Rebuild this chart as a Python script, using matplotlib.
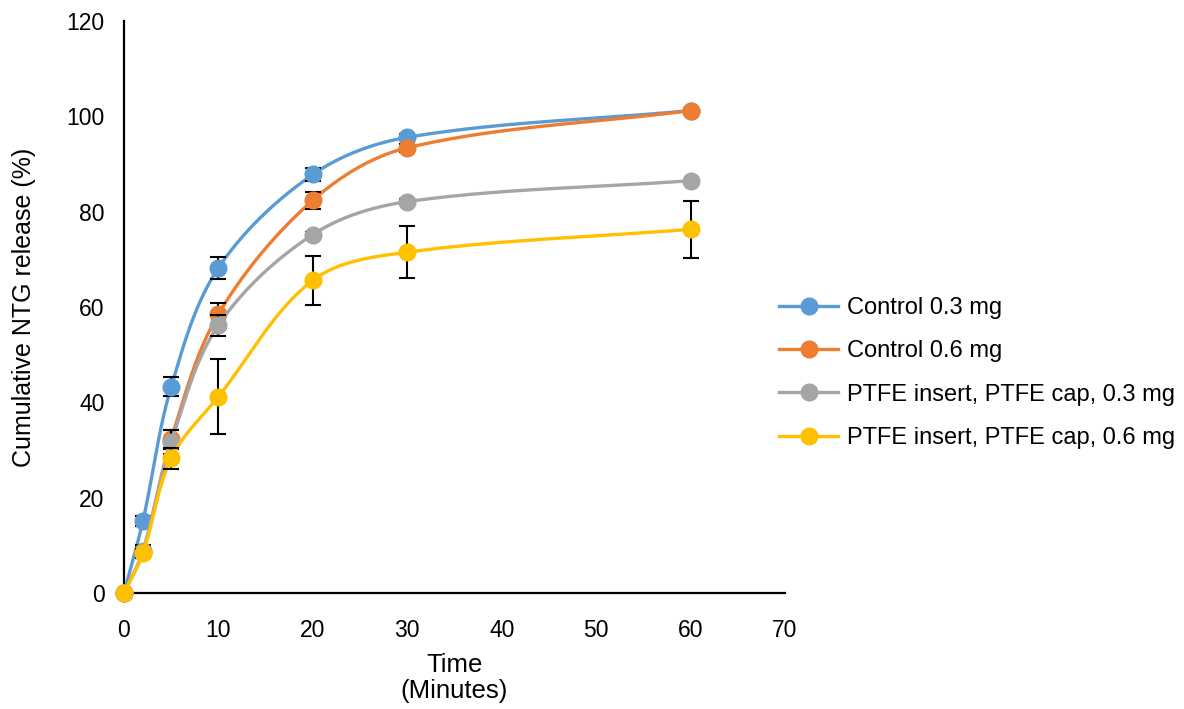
import numpy as np
import matplotlib
matplotlib.use('Agg')
import matplotlib.pyplot as plt

plt.rcParams['font.family'] = ['Liberation Sans', 'DejaVu Sans']

time = [0, 2, 5, 10, 20, 30, 60]
ctrl03 = [0, 15.1, 43.3, 68.2, 87.8, 95.6, 101.2]
ctrl03_err = [0, 1.0, 2.0, 2.3, 1.3, 0.6, 0.3]
ctrl06 = [0, 8.6, 32.3, 58.5, 82.4, 93.4, 101.2]
ctrl06_err = [0, 1.2, 2.0, 2.4, 1.8, 0.8, 0.4]
ptfe03 = [0, 8.8, 31.6, 56.2, 75.2, 82.1, 86.5]
ptfe03_err = [0, 1.2, 2.5, 2.2, 0.5, 0.5, 0.4]
ptfe06 = [0, 8.3, 28.3, 41.2, 65.6, 71.5, 76.3]
ptfe06_err = [0, 1.0, 2.2, 7.8, 5.1, 5.5, 6.0]

labels = ['Control 0.3 mg', 'Control 0.6 mg',
          'PTFE insert, PTFE cap, 0.3 mg', 'PTFE insert, PTFE cap, 0.6 mg']
colors = ['#5B9BD5', '#ED7D31', '#A5A5A5', '#FFC000']


def smooth(ax, x, y, n=60):
    # smoothed line through the points, built in display space
    pts = ax.transData.transform(np.column_stack([x, y]))
    m = len(pts)
    tang = []
    for i in range(m):
        d = pts[min(i + 1, m - 1)] - pts[max(i - 1, 0)]
        tang.append(d / np.linalg.norm(d))
    t = np.linspace(0, 1, n)[:, None]
    out = []
    for i in range(m - 1):
        p0, p3 = pts[i], pts[i + 1]
        L = np.linalg.norm(p3 - p0) / 3
        p1 = p0 + tang[i] * L
        p2 = p3 - tang[i + 1] * L
        b = (1 - t) ** 3 * p0 + 3 * (1 - t) ** 2 * t * p1 + 3 * (1 - t) * t ** 2 * p2 + t ** 3 * p3
        out.append(b)
    out = np.vstack(out)
    d = ax.transData.inverted().transform(out)
    return d[:, 0], d[:, 1]


fig = plt.figure(figsize=(11.84, 7.09), dpi=100)
ax = fig.add_axes([124 / 1184, 1 - 593 / 709, (785 - 124) / 1184, (593 - 21) / 709])
ax.set_xlim(0, 70)
ax.set_ylim(0, 120)

series = [(ctrl03, ctrl03_err), (ctrl06, ctrl06_err), (ptfe03, ptfe03_err), (ptfe06, ptfe06_err)]
for k, ((vals, err), c, lab) in enumerate(zip(series, colors, labels)):
    sx, sy = smooth(ax, time, vals)
    z = 3 + k
    ax.plot(sx, sy, color=c, lw=2.4, zorder=z, clip_on=False, solid_capstyle='round')
    ax.errorbar(time, vals, yerr=err, fmt='none', ecolor='black', elinewidth=1.5,
                capsize=5.5, capthick=1.5, zorder=z + 0.1)
    ax.plot(time, vals, 'o', color=c, ms=12, zorder=z + 0.2, clip_on=False)
    ax.plot([], [], '-o', color=c, lw=2.4, ms=12, label=lab)

ax.set_xticks(range(0, 71, 10))
ax.set_yticks(range(0, 121, 20))
ax.tick_params(length=0, labelsize=16.5)
ax.tick_params(axis='y', pad=14)
ax.tick_params(axis='x', pad=19)
for s in ['top', 'right']:
    ax.spines[s].set_visible(False)
for s in ['left', 'bottom']:
    ax.spines[s].set_linewidth(1.6)
    ax.spines[s].set_color('black')
    ax.spines[s].set_zorder(2)

ax.set_xlabel('Time\n(Minutes)', fontsize=18.5, labelpad=8, linespacing=1.1)
ax.set_ylabel('Cumulative NTG release (%)', fontsize=18, labelpad=22)

fig.legend(loc='center left', bbox_to_anchor=(758 / 1184, 1 - 373 / 709),
           frameon=False, fontsize=17, handlelength=2.5, labelspacing=0.9,
           handletextpad=0.35)

fig.savefig('out.png', dpi=100)
